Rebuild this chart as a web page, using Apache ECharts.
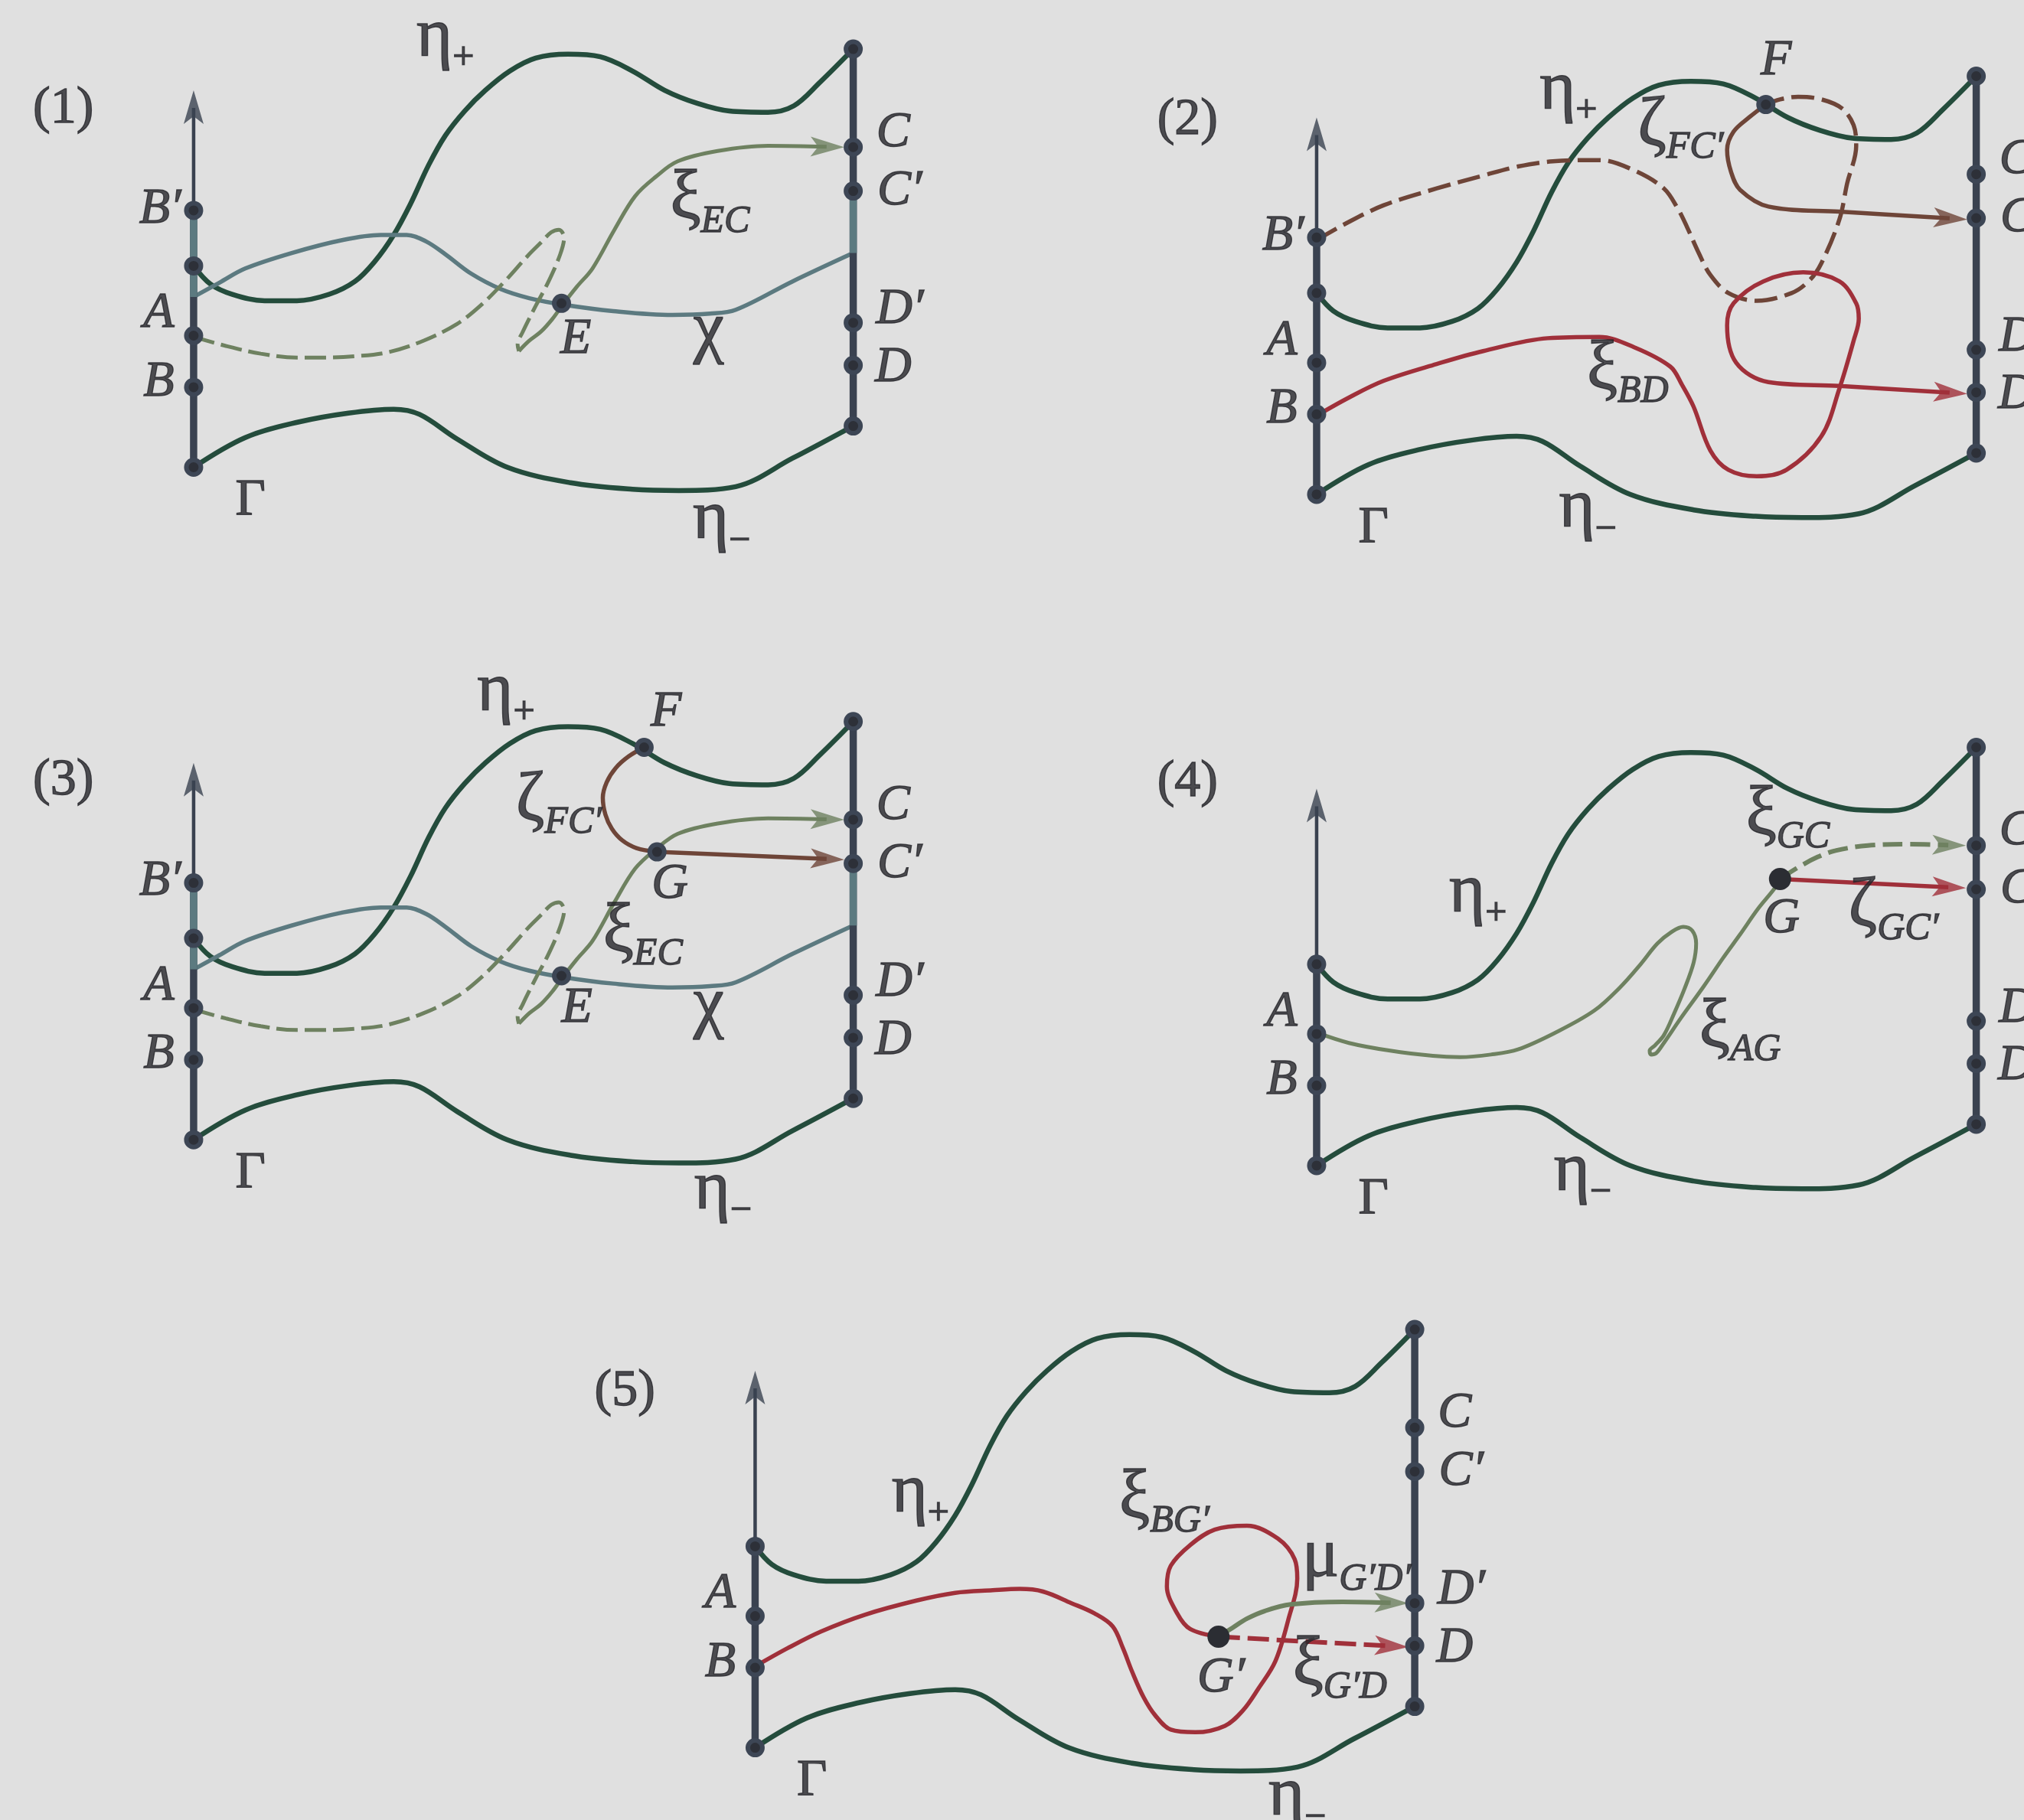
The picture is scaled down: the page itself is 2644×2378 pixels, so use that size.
<!DOCTYPE html>
<html style="height: 100%">

<head>
    <meta charset="utf-8">
    <title>Curves between the two boundaries</title>
</head>

<body style="height: 100%; margin: 0; background: #e0e0e0">
    <div id="container" style="height: 100%"></div>
    <script src="https://cdn.jsdelivr.net/npm/echarts@6/dist/echarts.min.js"></script>
    <script type="text/javascript">
        var myChart = echarts.init(document.getElementById('container'));

        // coordinates in 1568 x 1410 units
        var W = 1568, H = 1410;
        var UNIT = 2644 / 1568;

        // every panel is panel (1) moved by this much
        var panelShift = [[0, 0], [870, 21], [0, 521], [870, 541], [435, 992]];
        var leftX = 150, rightX = 661, arrowTipY = 70;
        var leftNodes = [
            [163, 206, 260, 300, 362],
            [163, 206, 260, 300, 362],
            [163, 206, 260, 300, 362],
            [206, 260, 300, 362],
            [206, 260, 300, 362]
        ];
        var rightNodes = [38, 114, 148, 250, 283, 330];
        var tealLeft = [163, 230], tealRight = [148, 196];

        var etaPlus = [[150, 206], [163, 220], [180, 228], [205, 233], [230, 233], [255, 228], [275, 218], [290, 203],
            [305, 182], [318, 158], [332, 128], [345, 105], [360, 86], [376, 70], [395, 55], [415, 45], [440, 42],
            [465, 44], [490, 55], [515, 70], [540, 80], [565, 86], [595, 87], [615, 82], [635, 64], [661, 38]];
        var etaMinus = [[150, 362], [190, 339], [231, 327], [270, 320], [305, 317], [325, 321], [354, 340], [393, 362],
            [442, 374], [490, 379], [526, 380], [570, 377], [614, 355], [661, 330]];
        var chi = [[150, 230], [170, 219], [190, 208], [226, 196], [265, 186], [295, 182], [315, 182], [330, 187],
            [345, 197], [365, 212], [388, 224], [410, 231], [436, 236], [475, 241], [521, 244], [550, 243], [570, 240],
            [614, 218], [661, 196]];
        var xiECdash = [[150, 261], [175, 268], [202, 274], [230, 277], [251, 277], [275, 276], [300, 273], [328, 264],
            [354, 251], [372, 237], [391, 218], [409, 198], [419, 188], [427, 180], [433, 178], [437, 184], [434, 197],
            [425, 218], [415, 237], [405, 257], [401, 267], [402, 272]];
        var xiECsolid = [[402, 272], [410, 264], [419, 257], [428, 247], [436, 236], [447, 222], [459, 208], [476, 178],
            [492, 152], [508, 137], [525, 125], [556, 117], [595, 113], [654, 114]];

        // panel (2)
        var zetaFC2dash = [[1020, 186], [1041, 174], [1072, 159], [1113, 146], [1149, 136], [1176, 129], [1203, 125],
            [1239, 124], [1266, 132], [1289, 146], [1300, 162], [1307, 176], [1316, 196], [1325, 213], [1339, 227],
            [1361, 233], [1388, 227], [1402, 217], [1411, 204], [1425, 170], [1431, 142], [1438, 113], [1436, 97],
            [1427, 84], [1411, 77], [1393, 75], [1379, 77], [1368, 81]];
        var zetaFC2 = [[1368, 81], [1355, 91], [1343, 102], [1338, 116], [1341, 133], [1348, 147], [1370, 160],
            [1425, 164], [1524, 170]];
        var xiBD2 = [[1020, 322], [1045, 308], [1072, 295], [1113, 282], [1149, 272], [1199, 262], [1239, 261],
            [1266, 269], [1294, 284], [1303, 298], [1312, 315], [1325, 349], [1339, 364], [1361, 369], [1384, 364],
            [1411, 338], [1425, 301], [1436, 264], [1440, 247], [1438, 235], [1425, 218], [1397, 211], [1366, 218],
            [1343, 235], [1338, 252], [1345, 281], [1370, 296], [1425, 299], [1524, 305]];

        // panel (3)
        var zetaFC3 = [[499, 579], [487, 586], [477, 595], [470, 606], [467, 618], [469, 631], [474, 642], [482, 651],
            [493, 657], [509, 660]];
        var zetaGC3 = [[509, 660], [654, 666]];

        // panel (4)
        var xiAG4 = [[1020, 800], [1045, 808], [1077, 814], [1110, 818], [1131, 819], [1155, 817], [1176, 813],
            [1205, 800], [1235, 783], [1255, 765], [1271, 747], [1284, 731], [1295, 722], [1304, 718], [1311, 721],
            [1314, 731], [1312, 746], [1305, 766], [1297, 785], [1289, 802], [1282, 810], [1278, 814], [1279, 817],
            [1283, 816], [1289, 808], [1302, 789], [1320, 764], [1335, 742], [1348, 724], [1362, 704], [1375, 688],
            [1379, 681]];
        var xiGC4 = [[1379, 681], [1393, 672], [1408, 664], [1422, 659], [1447, 655], [1480, 654], [1523, 655]];
        var zetaGC4 = [[1379, 681], [1523, 688]];

        // panel (5)
        var xiBG5 = [[585, 1291], [610, 1277], [636, 1264], [670, 1251], [710, 1240], [740, 1234], [769, 1232],
            [790, 1231], [808, 1233], [830, 1242], [848, 1250], [862, 1260], [870, 1277], [877, 1295], [886, 1315],
            [895, 1329], [907, 1340], [926, 1342], [949, 1337], [963, 1325], [975, 1308], [988, 1287], [998, 1255],
            [1005, 1223], [1003, 1208], [990, 1192], [966, 1182], [941, 1185], [922, 1197], [907, 1213], [904, 1229],
            [912, 1250], [922, 1262], [944, 1268]];
        var xiGD5 = [[944, 1268], [1091, 1276]];
        var muGD5 = [[944, 1268], [955, 1261], [966, 1254], [980, 1248], [1000, 1243], [1040, 1241], [1091, 1242]];

        var ringDots = [[435, 235], [1368, 81], [435, 756], [499, 579], [509, 660]];
        var solidDots = [[1379, 681], [944, 1268]];

        var sideLabels = [['{it|B′}', 124, 162], ['{it|A}', 123, 243], ['{it|B}', 123, 296], ['{it|C}', 692, 103],
            ['{it|C′}', 697, 148], ['{it|D′}', 697, 240], ['{it|D}', 692, 285], ['{rm|Γ}', 194, 388]];
        var panelLabels = [
            [['{rm|(1)}', 49, 84], ['{gr|η}{subr|+}', 345, 29], ['{gr|η}{subr|−}', 559, 403],
                ['{gr|ξ}{sub|EC}', 550, 155], ['{it|E}', 446, 263], ['{gr|χ}', 549, 257]],
            [['{rm|(2)}', 920, 93], ['{gr|η}{subr|+}', 1215, 70], ['{gr|η}{subr|−}', 1230, 394], ['{it|F}', 1376, 47],
                ['{gr|ζ}{sub|FC′}', 1302, 98], ['{gr|ξ}{sub|BD}', 1261, 287]],
            [['{rm|(3)}', 49, 605], ['{gr|η}{subr|+}', 392, 536], ['{gr|η}{subr|−}', 560, 922], ['{it|F}', 516, 552],
                ['{gr|ζ}{sub|FC′}', 433, 621], ['{it|G}', 519, 685], ['{gr|ξ}{sub|EC}', 498, 723], ['{it|E}', 447, 781],
                ['{gr|χ}', 549, 780]],
            [['{rm|(4)}', 920, 606], ['{gr|η}{subr|+}', 1145, 692], ['{gr|η}{subr|−}', 1226, 908],
                ['{gr|ξ}{sub|GC}', 1385, 632], ['{it|G}', 1380, 712], ['{gr|ζ}{sub|GC′}', 1467, 703],
                ['{gr|ξ}{sub|AG}', 1348, 797]],
            [['{rm|(5)}', 484, 1078], ['{gr|η}{subr|+}', 713, 1157], ['{gr|η}{subr|−}', 1005, 1392],
                ['{gr|ξ}{sub|BG′}', 902, 1162], ['{gr|μ}{sub|G′D′}', 1051, 1207], ['{it|G′}', 946, 1300],
                ['{gr|ξ}{sub|G′D}', 1038, 1291]]
        ];

        var colors = {
            axis: '#3a4250', eta: '#244c3c', teal: '#5c7a80', olive: '#6e8160',
            brown: '#6e4538', red: '#a0303a', text: '#26262b'
        };

        var ARROW_W = 26, ARROW_L = 44;
        var arrowPath = 'path://M13,0L26,44L13,34L0,44Z';
        var series = [];
        var arrowItems = [];

        function shift(pts, d) {
            return pts.map(function (p) { return [p[0] + d[0], p[1] + d[1]]; });
        }

        function addCurve(pts, color, width, dash, withArrow, z) {
            var data = pts.slice();
            if (withArrow) {
                var a = pts[pts.length - 2], b = pts[pts.length - 1];
                var dx = b[0] - a[0], dy = b[1] - a[1];
                var len = Math.sqrt(dx * dx + dy * dy);
                var ux = dx / len, uy = dy / len;
                data[data.length - 1] = [b[0] - ux * 23 / UNIT, b[1] - uy * 23 / UNIT];
                arrowItems.push({
                    value: [b[0] - ux * ARROW_L / 2 / UNIT, b[1] - uy * ARROW_L / 2 / UNIT],
                    symbolRotate: Math.atan2(-ux, -uy) * 180 / Math.PI,
                    itemStyle: { color: color }
                });
            }
            series.push({
                type: 'line',
                data: data,
                smooth: data.length > 2 ? 0.35 : false,
                symbol: 'none',
                silent: true,
                z: z || 2,
                lineStyle: { color: color, width: width, type: dash || 'solid' }
            });
        }

        var dotData = [];
        var labelData = [];

        panelShift.forEach(function (d, i) {
            var lx = leftX + d[0], rx = rightX + d[0];
            var top = leftNodes[i][0];

            addCurve(shift(etaPlus, d), colors.eta, 6.5);
            addCurve(shift(etaMinus, d), colors.eta, 6.5);
            if (i === 0 || i === 2) {
                addCurve(shift(chi, d), colors.teal, 5.5);
                addCurve(shift(xiECdash, d), colors.olive, 5, [28, 9]);
                addCurve(shift(xiECsolid, d), colors.olive, 5, null, true);
            }

            // the two boundaries
            addCurve([[lx, top + d[1]], [lx, arrowTipY + d[1]]], colors.axis, 4.5, null, true, 3);
            addCurve([[lx, leftNodes[i][leftNodes[i].length - 1] + d[1]], [lx, top + d[1]]], colors.axis, 9.5, null, false, 3);
            addCurve([[rx, rightNodes[0] + d[1]], [rx, rightNodes[rightNodes.length - 1] + d[1]]], colors.axis, 9.5, null, false, 3);
            if (i === 0 || i === 2) {
                addCurve([[lx, tealLeft[0] + d[1]], [lx, tealLeft[1] + d[1]]], colors.teal, 9.5, null, false, 3);
                addCurve([[rx, tealRight[0] + d[1]], [rx, tealRight[1] + d[1]]], colors.teal, 9.5, null, false, 3);
            }

            leftNodes[i].forEach(function (y) { dotData.push([lx, y + d[1]]); });
            rightNodes.forEach(function (y) { dotData.push([rx, y + d[1]]); });

            sideLabels.forEach(function (s) {
                if (s[0] === '{it|B′}' && leftNodes[i].length < 5) return;
                labelData.push({ value: [s[1] + d[0], s[2] + d[1]], t: s[0] });
            });
            panelLabels[i].forEach(function (s) {
                labelData.push({ value: [s[1], s[2]], t: s[0] });
            });
        });

        addCurve(zetaFC2dash, colors.brown, 5.5, [30, 10]);
        addCurve(zetaFC2, colors.brown, 5.5, null, true);
        addCurve(xiBD2, colors.red, 5.5, null, true);
        addCurve(zetaFC3, colors.brown, 5.5);
        addCurve(zetaGC3, colors.brown, 5.5, null, true);
        addCurve(xiAG4, colors.olive, 5);
        addCurve(xiGC4, colors.olive, 6, [26, 10], true);
        addCurve(zetaGC4, colors.red, 5.5, null, true);
        addCurve(xiBG5, colors.red, 5.5);
        addCurve(muGD5, colors.olive, 6, null, true);
        addCurve(xiGD5, colors.red, 6, [28, 10], true);

        ringDots.forEach(function (p) { dotData.push(p); });

        series.push({
            type: 'scatter', data: arrowItems, symbol: arrowPath, symbolSize: [ARROW_W, ARROW_L],
            silent: true, z: 4
        });
        series.push({
            type: 'scatter', data: dotData, symbol: 'circle', symbolSize: 19, silent: true, z: 5,
            itemStyle: { color: '#2d3038', borderColor: '#3d4655', borderWidth: 6, opacity: 1 }
        });
        series.push({
            type: 'scatter', data: solidDots, symbol: 'circle', symbolSize: 29, silent: true, z: 5,
            itemStyle: { color: '#2b2d33', opacity: 1 }
        });

        var serif = 'Liberation Serif';
        function textStyle(size, italic, extra) {
            var s = {
                fontFamily: serif, fontSize: size, fontStyle: italic ? 'italic' : 'normal',
                color: colors.text, textBorderColor: colors.text, textBorderWidth: 1.4
            };
            if (extra) s.padding = extra;
            return s;
        }
        series.push({
            type: 'scatter', data: labelData, symbol: 'circle', symbolSize: 1, silent: true, z: 6,
            itemStyle: { color: 'rgba(0,0,0,0)' },
            label: {
                show: true, position: 'inside', color: colors.text,
                formatter: function (p) { return p.data.t; },
                rich: {
                    rm: textStyle(68, false),
                    gr: textStyle(90, false),
                    it: textStyle(66, true),
                    sub: textStyle(50, true, [56, 0, 0, 0]),
                    subr: textStyle(50, false, [56, 0, 0, 0])
                }
            }
        });

        var option = {
            backgroundColor: '#e0e0e0',
            animation: false,
            grid: { left: 0, right: 0, top: 0, bottom: 0 },
            xAxis: { type: 'value', min: 0, max: W, show: false },
            yAxis: { type: 'value', min: 0, max: H, inverse: true, show: false },
            series: series
        };
        myChart.setOption(option);
    </script>
</body>

</html>
